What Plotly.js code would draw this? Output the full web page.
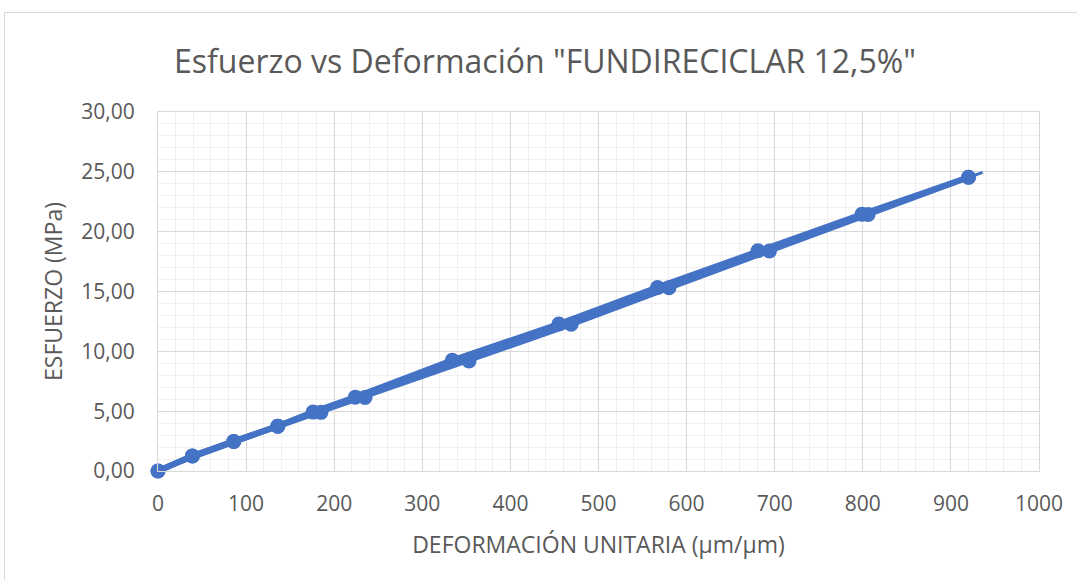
<!DOCTYPE html>
<html>
<head>
<meta charset="utf-8">
<script src="https://cdn.plot.ly/plotly-3.0.1.min.js"></script>
<style>
html,body{margin:0;padding:0;background:#fff;}
#wrap{position:relative;width:1077px;height:580px;}
#chart{position:absolute;left:0;top:0;width:1077px;height:580px;}
#frame{position:absolute;left:4px;top:12px;width:1080px;height:580px;border:1px solid #d9d9d9;pointer-events:none;}
</style>
</head>
<body>
<div id="wrap"><div id="chart"></div><div id="frame"></div></div>
<script>
// Data
const serie1X = [0, 39, 86, 136, 176, 224, 334, 455, 567, 681, 799, 920];
const serie1Y = [0, 1.25, 2.47, 3.75, 4.92, 6.17, 9.25, 12.28, 15.34, 18.40, 21.46, 24.55];
const serie2X = [0, 39, 86, 136, 185, 235, 353, 469, 580, 694, 806, 920];
const serie2Y = [0, 1.25, 2.47, 3.75, 4.90, 6.15, 9.20, 12.26, 15.32, 18.38, 21.44, 24.55];
const trendX = [0, 936];
const trendY = [0, 24.95];
const xTicks = [0, 100, 200, 300, 400, 500, 600, 700, 800, 900, 1000];
const yTicks = [0, 5, 10, 15, 20, 25, 30];

const blue = '#4472C4';
const txt = '#595959';
const fontFam = 'Open Sans, sans-serif';

const traces = [
  {x: trendX, y: trendY, type: 'scatter', mode: 'lines', cliponaxis: false,
   line: {color: blue, width: 3}, hoverinfo: 'skip', showlegend: false},
  {x: serie1X, y: serie1Y, type: 'scatter', mode: 'lines+markers', cliponaxis: false,
   line: {color: blue, width: 6}, marker: {color: blue, size: 15}, showlegend: false},
  {x: serie2X, y: serie2Y, type: 'scatter', mode: 'lines+markers', cliponaxis: false,
   line: {color: blue, width: 6}, marker: {color: blue, size: 15}, showlegend: false}
];

const layout = {
  width: 1077, height: 580,
  margin: {l: 158, r: 38, t: 112, b: 109},
  paper_bgcolor: '#fff', plot_bgcolor: '#fff',
  separators: ',.',
  font: {family: fontFam, color: txt, size: 20},
  title: {text: 'Esfuerzo vs Deformación "FUNDIRECICLAR 12,5%"',
          font: {family: fontFam, size: 32, color: txt},
          x: 0.506, xanchor: 'center', y: 0.893, yanchor: 'middle'},
  xaxis: {
    range: [0, 1000], tickvals: xTicks, ticktext: xTicks.map(String),
    showgrid: true, gridcolor: '#d9d9d9', gridwidth: 1,
    minor: {dtick: 20, showgrid: true, gridcolor: '#f0f0f0', gridwidth: 1},
    showline: true, linecolor: '#d9d9d9', mirror: true, zeroline: false,
    ticks: '', ticklabelstandoff: 14, tickfont: {size: 21, color: txt},
    title: {text: 'DEFORMACIÓN UNITARIA (µm/µm)', font: {size: 23, color: txt}, standoff: 20}
  },
  yaxis: {
    range: [0, 30], tickvals: yTicks, tickformat: '.2f',
    showgrid: true, gridcolor: '#d9d9d9', gridwidth: 1,
    minor: {dtick: 1, showgrid: true, gridcolor: '#f0f0f0', gridwidth: 1},
    showline: true, linecolor: '#d9d9d9', mirror: true, zeroline: false,
    ticks: '', ticklabelstandoff: 18, tickfont: {size: 21, color: txt},
    title: {text: 'ESFUERZO (MPa)', font: {size: 23, color: txt}, standoff: 12}
  }
};

Plotly.newPlot('chart', traces, layout, {displayModeBar: false, staticPlot: true});
</script>
</body>
</html>
